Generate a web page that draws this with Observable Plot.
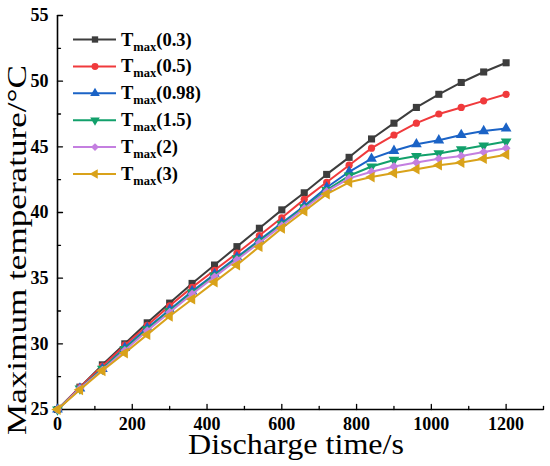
<!DOCTYPE html>
<html>
<head>
<meta charset="utf-8">
<script src="https://cdn.jsdelivr.net/npm/d3@7"></script>
<script src="https://cdn.jsdelivr.net/npm/@observablehq/plot@0.6"></script>
<style>
  html, body { margin: 0; padding: 0; background: #fff; }
  #chart { width: 550px; height: 466px; }
  #chart svg, #chart svg text { font-family: "Liberation Serif", "Times New Roman", serif !important; }
</style>
</head>
<body>
<div id="chart"></div>
<script>
// ---- data ----
const times = [0, 60, 120, 180, 240, 300, 360, 420, 480, 540, 600, 660, 720, 780, 840, 900, 960, 1020, 1080, 1140, 1200];
const seriesNames = ["0.3", "0.5", "0.98", "1.5", "2", "3"];
const t03  = [25, 26.7, 28.4, 30.0, 31.6, 33.1, 34.6, 36.0, 37.4, 38.8, 40.2, 41.5, 42.9, 44.2, 45.6, 46.8, 48.0, 49.0, 49.9, 50.7, 51.4];
const t05  = [25, 26.7, 28.3, 29.9, 31.4, 32.9, 34.3, 35.6, 36.9, 38.25, 39.6, 41.0, 42.3, 43.6, 44.9, 45.9, 46.8, 47.5, 48.0, 48.5, 49.0];
const t098 = [25, 26.6, 28.1, 29.7, 31.2, 32.6, 34.0, 35.3, 36.6, 37.9, 39.2, 40.5, 41.9, 43.1, 44.1, 44.7, 45.2, 45.5, 45.9, 46.2, 46.4];
const t15  = [25, 26.6, 28.1, 29.6, 31.1, 32.5, 33.9, 35.2, 36.5, 37.8, 39.1, 40.4, 41.7, 42.8, 43.5, 44.0, 44.3, 44.5, 44.8, 45.1, 45.4];
const t2   = [25, 26.6, 28.0, 29.5, 31.0, 32.4, 33.8, 35.1, 36.4, 37.7, 39.0, 40.3, 41.6, 42.6, 43.1, 43.5, 43.8, 44.1, 44.3, 44.6, 44.9];
const t3   = [25, 26.5, 27.95, 29.3, 30.7, 32.1, 33.4, 34.7, 36.0, 37.4, 38.8, 40.1, 41.4, 42.3, 42.7, 43.0, 43.3, 43.6, 43.8, 44.1, 44.4];
const seriesValues = [t03, t05, t098, t15, t2, t3];
const xMajorTicks = [0, 200, 400, 600, 800, 1000, 1200];
const xMinorTicks = [100, 300, 500, 700, 900, 1100, 1300];
const yMajorTicks = [25, 30, 35, 40, 45, 50, 55];
const yMinorTicks = [27.5, 32.5, 37.5, 42.5, 47.5, 52.5];

// ---- styles ----
const FONT = "'Liberation Serif', 'Times New Roman', serif";
const colors = ["#3d3d3d", "#f03a3c", "#1b63c6", "#12a06b", "#c47fe0", "#d9a21a"];
const sqrt3 = Math.sqrt(3);
const triangleDown = {
  draw(ctx, size) {
    const y = -Math.sqrt(size / (sqrt3 * 3));
    ctx.moveTo(0, -y * 2);
    ctx.lineTo(-sqrt3 * y, y);
    ctx.lineTo(sqrt3 * y, y);
    ctx.closePath();
  }
};
const triangleLeft = {
  draw(ctx, size) {
    const y = -Math.sqrt(size / (sqrt3 * 3));
    ctx.moveTo(y * 2, 0);
    ctx.lineTo(-y, -sqrt3 * y);
    ctx.lineTo(-y, sqrt3 * y);
    ctx.closePath();
  }
};
const symbols = [d3.symbolSquare, d3.symbolCircle, d3.symbolTriangle, triangleDown, d3.symbolDiamond2, triangleLeft];
const tickShape = {draw(ctx, l) { ctx.moveTo(0, 0); ctx.lineTo(0, -l); }};

const rows = seriesValues.map(vals => times.map((t, i) => ({t, v: vals[i]})));

const marks = [];
rows.forEach((data, k) => {
  marks.push(Plot.line(data, {x: "t", y: "v", stroke: colors[k], strokeWidth: 2}));
  marks.push(Plot.dot(data, {x: "t", y: "v", fill: colors[k], stroke: "none", symbol: symbols[k], r: k === 1 ? 3.6 : 4}));
});

const chart = Plot.plot({
  width: 550,
  height: 466,
  marginLeft: 57,
  marginRight: 7,
  marginTop: 15,
  marginBottom: 57,
  style: {background: "#fff"},
  x: {domain: [0, 1300]},
  y: {domain: [25, 55]},
  marks: [
    // inward ticks
    Plot.vector(xMajorTicks, {x: d => d, y: 25, length: 5, rotate: 0, anchor: "start", shape: tickShape, stroke: "#000", strokeWidth: 1.3}),
    Plot.vector(xMinorTicks, {x: d => d, y: 25, length: 3, rotate: 0, anchor: "start", shape: tickShape, stroke: "#000", strokeWidth: 1.3}),
    Plot.vector(yMajorTicks, {x: 0, y: d => d, length: 5, rotate: 90, anchor: "start", shape: tickShape, stroke: "#000", strokeWidth: 1.3}),
    Plot.vector(yMinorTicks, {x: 0, y: d => d, length: 3, rotate: 90, anchor: "start", shape: tickShape, stroke: "#000", strokeWidth: 1.3}),
    // tick labels
    Plot.axisX({ticks: xMajorTicks, tickSize: 0, tickPadding: 8, tickFormat: d3.format("d"), label: null, fontSize: 18, fontWeight: "bold", fill: "#000", fontFamily: FONT}),
    Plot.axisY({ticks: yMajorTicks, tickSize: 0, tickPadding: 9, tickFormat: d3.format("d"), label: null, fontSize: 18, fontWeight: "bold", fill: "#000", fontFamily: FONT}),
    // axis lines
    Plot.ruleY([25], {stroke: "#000", strokeWidth: 1.6}),
    Plot.ruleX([0], {stroke: "#000", strokeWidth: 1.6}),
    ...marks
  ]
});
chart.setAttribute("font-family", FONT);

const svg = d3.select(chart);
// axis titles
svg.append("text")
  .attr("x", 296).attr("y", 454)
  .attr("text-anchor", "middle")
  .attr("font-family", FONT)
  .attr("font-size", 30)
  .attr("textLength", 216)
  .attr("lengthAdjust", "spacingAndGlyphs")
  .attr("fill", "#000")
  .text("Discharge time/s");
svg.append("text")
  .attr("transform", "translate(26,250) rotate(-90)")
  .attr("text-anchor", "middle")
  .attr("font-family", FONT)
  .attr("font-size", 28)
  .attr("textLength", 370)
  .attr("lengthAdjust", "spacingAndGlyphs")
  .attr("fill", "#000")
  .text("Maximum temperature/°C");

// legend
const lg = svg.append("g");
seriesNames.forEach((name, k) => {
  const cy = 39.5 + k * 26.9;
  lg.append("line").attr("x1", 73).attr("x2", 116).attr("y1", cy).attr("y2", cy)
    .attr("stroke", colors[k]).attr("stroke-width", 2);
  lg.append("path").attr("d", d3.symbol(symbols[k], k === 1 ? 38 : 40)())
    .attr("transform", `translate(95,${cy})`).attr("fill", colors[k]);
  const t = lg.append("text").attr("x", 121).attr("y", cy + 6)
    .attr("text-anchor", "start").attr("font-family", FONT)
    .attr("font-weight", "bold").attr("fill", "#000").attr("font-size", 18.5);
  t.append("tspan").text("T");
  t.append("tspan").attr("font-size", 12.5).attr("dy", 5).text("max");
  t.append("tspan").attr("dy", -5).text(`(${name})`);
});

document.getElementById("chart").appendChild(chart);
</script>
</body>
</html>
